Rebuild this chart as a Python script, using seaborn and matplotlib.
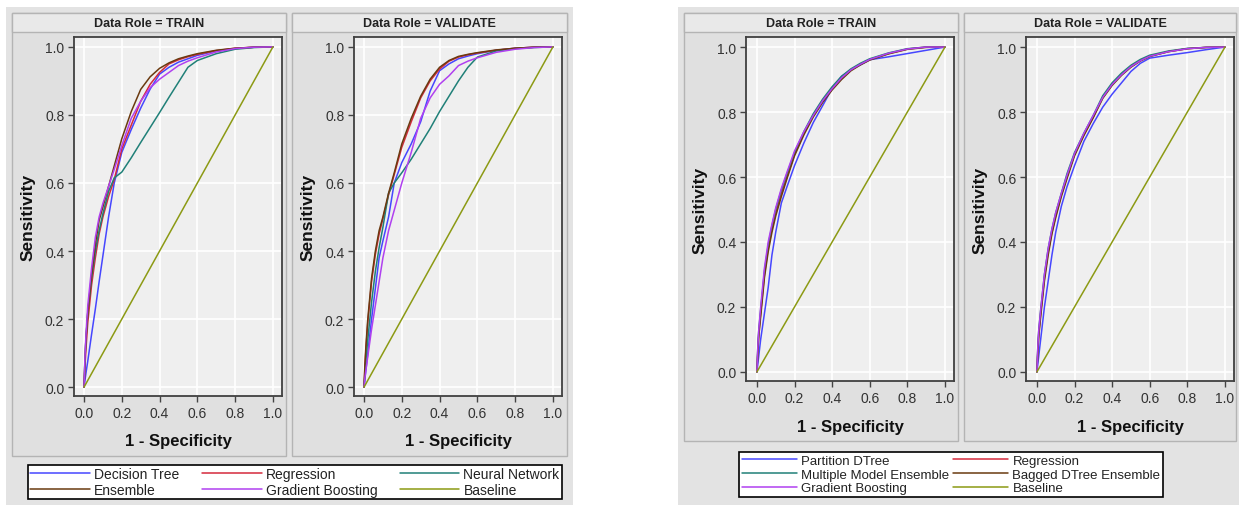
import numpy as np
import pandas as pd
import matplotlib
matplotlib.use("Agg")
import matplotlib.pyplot as plt
import seaborn as sns
from matplotlib.patches import Rectangle
from matplotlib.lines import Line2D

# shared false positive rate grid (1 - Specificity)
FPR = [0, 0.005, 0.01, 0.02, 0.04, 0.06, 0.08, 0.1, 0.13, 0.16, 0.2, 0.25,
       0.3, 0.35, 0.4, 0.45, 0.5, 0.55, 0.6, 0.7, 0.8, 0.9, 1.0]
BASELINE_X = [0.0, 1.0]
BASELINE_Y = [0.0, 1.0]

# ---- left chart, TRAIN ----
L_TR_DTREE = [0, 0.02, 0.04, 0.077, 0.155, 0.23, 0.31, 0.386, 0.50, 0.60, 0.69, 0.757,
              0.82, 0.876, 0.92, 0.94, 0.955, 0.965, 0.975, 0.988, 0.995, 0.999, 1]
L_TR_REG = [0, 0.06, 0.11, 0.19, 0.30, 0.38, 0.45, 0.50, 0.56, 0.61, 0.70, 0.77,
            0.84, 0.89, 0.925, 0.95, 0.962, 0.971, 0.978, 0.989, 0.996, 0.999, 1]
L_TR_NN = [0, 0.08, 0.14, 0.22, 0.32, 0.40, 0.46, 0.51, 0.575, 0.615, 0.632, 0.674,
           0.719, 0.763, 0.807, 0.852, 0.896, 0.94, 0.96, 0.98, 0.993, 0.998, 1]
L_TR_ENS = [0, 0.08, 0.14, 0.22, 0.33, 0.42, 0.49, 0.53, 0.59, 0.65, 0.73, 0.81,
            0.875, 0.912, 0.937, 0.953, 0.965, 0.973, 0.98, 0.99, 0.996, 0.999, 1]
L_TR_GB = [0, 0.09, 0.15, 0.24, 0.35, 0.44, 0.50, 0.54, 0.59, 0.64, 0.71, 0.79,
           0.84, 0.88, 0.905, 0.925, 0.945, 0.958, 0.968, 0.985, 0.995, 0.999, 1]

# ---- left chart, VALIDATE ----
L_VA_DTREE = [0, 0.025, 0.05, 0.10, 0.20, 0.29, 0.38, 0.43, 0.50, 0.60, 0.66, 0.715,
              0.78, 0.87, 0.93, 0.95, 0.965, 0.973, 0.98, 0.99, 0.996, 0.999, 1]
L_VA_REG = [0, 0.06, 0.11, 0.19, 0.31, 0.39, 0.45, 0.495, 0.565, 0.625, 0.705, 0.78,
            0.85, 0.90, 0.935, 0.958, 0.97, 0.977, 0.982, 0.99, 0.996, 0.999, 1]
L_VA_NN = [0, 0.04, 0.08, 0.14, 0.25, 0.34, 0.41, 0.47, 0.57, 0.60, 0.63, 0.67,
           0.715, 0.76, 0.81, 0.855, 0.90, 0.94, 0.97, 0.988, 0.995, 0.998, 1]
L_VA_ENS = [0, 0.07, 0.12, 0.20, 0.32, 0.40, 0.46, 0.50, 0.57, 0.63, 0.715, 0.79,
            0.855, 0.905, 0.94, 0.96, 0.972, 0.978, 0.983, 0.991, 0.996, 0.999, 1]
L_VA_GB = [0, 0.03, 0.05, 0.09, 0.17, 0.24, 0.31, 0.38, 0.46, 0.52, 0.60, 0.69,
           0.79, 0.85, 0.89, 0.915, 0.945, 0.958, 0.968, 0.984, 0.993, 0.998, 1]

# ---- right chart, TRAIN ----
R_TR_PDT = [0, 0.025, 0.05, 0.10, 0.18, 0.26, 0.36, 0.43, 0.52, 0.57, 0.635, 0.705,
            0.768, 0.82, 0.873, 0.91, 0.93, 0.945, 0.961, 0.970, 0.980, 0.99, 1]
R_TR_REG = [0, 0.07, 0.12, 0.18, 0.30, 0.38, 0.44, 0.49, 0.55, 0.60, 0.67, 0.735,
            0.79, 0.835, 0.872, 0.905, 0.93, 0.947, 0.962, 0.98, 0.994, 1.0, 1]
R_TR_MME = [0, 0.08, 0.13, 0.19, 0.31, 0.39, 0.45, 0.50, 0.56, 0.61, 0.675, 0.74,
            0.795, 0.84, 0.878, 0.91, 0.933, 0.95, 0.964, 0.982, 0.995, 1.0, 1]
R_TR_BAG = [0, 0.06, 0.11, 0.17, 0.29, 0.37, 0.43, 0.48, 0.54, 0.595, 0.665, 0.73,
            0.785, 0.83, 0.868, 0.90, 0.927, 0.945, 0.96, 0.979, 0.993, 0.999, 1]
R_TR_GB = [0, 0.08, 0.13, 0.20, 0.32, 0.40, 0.455, 0.505, 0.565, 0.615, 0.68, 0.74,
           0.79, 0.835, 0.872, 0.905, 0.93, 0.947, 0.962, 0.981, 0.994, 1.0, 1]

# ---- right chart, VALIDATE ----
R_VA_PDT = [0, 0.025, 0.05, 0.10, 0.20, 0.28, 0.36, 0.43, 0.51, 0.57, 0.635, 0.71,
            0.765, 0.815, 0.855, 0.89, 0.925, 0.95, 0.966, 0.975, 0.983, 0.992, 1]
R_VA_REG = [0, 0.07, 0.12, 0.18, 0.29, 0.37, 0.43, 0.48, 0.545, 0.60, 0.67, 0.73,
            0.785, 0.845, 0.885, 0.915, 0.94, 0.958, 0.972, 0.986, 0.995, 0.999, 1]
R_VA_MME = [0, 0.08, 0.13, 0.19, 0.30, 0.38, 0.44, 0.49, 0.55, 0.61, 0.675, 0.735,
            0.79, 0.85, 0.89, 0.92, 0.944, 0.962, 0.975, 0.988, 0.996, 0.999, 1]
R_VA_BAG = [0, 0.06, 0.11, 0.17, 0.28, 0.36, 0.425, 0.475, 0.54, 0.595, 0.665, 0.728,
            0.783, 0.842, 0.882, 0.913, 0.938, 0.957, 0.971, 0.986, 0.995, 0.999, 1]
R_VA_GB = [0, 0.08, 0.13, 0.19, 0.30, 0.38, 0.44, 0.49, 0.55, 0.605, 0.672, 0.735,
           0.79, 0.845, 0.885, 0.915, 0.94, 0.958, 0.972, 0.986, 0.995, 0.999, 1]

LEFT_NAMES = ["Decision Tree", "Regression", "Neural Network", "Ensemble", "Gradient Boosting"]
RIGHT_NAMES = ["Partition DTree", "Regression", "Multiple Model Ensemble",
               "Bagged DTree Ensemble", "Gradient Boosting"]

BLUE, RED, TEAL, BROWN, PURPLE, OLIVE = "#4646ff", "#d42a3c", "#208078", "#6a3a10", "#b040f0", "#8c9a14"
LEFT_COLORS = {"Decision Tree": BLUE, "Regression": RED, "Neural Network": TEAL,
               "Ensemble": BROWN, "Gradient Boosting": PURPLE, "Baseline": OLIVE}
RIGHT_COLORS = {"Partition DTree": BLUE, "Regression": RED, "Multiple Model Ensemble": TEAL,
                "Bagged DTree Ensemble": BROWN, "Gradient Boosting": PURPLE, "Baseline": OLIVE}

sns.set_theme(style="whitegrid")
plt.rcParams["font.family"] = ["Liberation Sans", "DejaVu Sans"]

W, H = 1239, 506
fig = plt.figure(figsize=(W / 100, H / 100), dpi=100)
fig.patch.set_facecolor("white")


def frect(x0, y0, x1, y1, z=-10, **kw):
    # rectangle given in pixel coords (top-left origin), drawn beneath the axes
    fig.patches.append(Rectangle((x0 / W, 1 - y1 / H), (x1 - x0) / W, (y1 - y0) / H,
                                 transform=fig.transFigure, zorder=z, **kw))


def long_df(names, curves):
    frames = [pd.DataFrame({"fpr": FPR, "tpr": c, "model": n}) for n, c in zip(names, curves)]
    frames.append(pd.DataFrame({"fpr": BASELINE_X, "tpr": BASELINE_Y, "model": "Baseline"}))
    return pd.concat(frames, ignore_index=True)


def panel(box, axbox, title, df, colors, ylim, xlim, xlab_y):
    bx0, by0, bx1, by1 = box
    frect(bx0, by0, bx1, by1, z=-9, facecolor="#e0e0e0", edgecolor="#b4b4b4", lw=1)
    frect(bx0, by0, bx1, by0 + 19, z=-8, facecolor="#e9e9e9", edgecolor="#b4b4b4", lw=1)
    fig.text((bx0 + bx1) / 2 / W, 1 - (by0 + 10) / H, title, ha="center", va="center",
             fontsize=9, fontweight="bold", color="#222222")
    ax0, ay0, ax1, ay1 = axbox
    ax = fig.add_axes([ax0 / W, 1 - ay1 / H, (ax1 - ax0) / W, (ay1 - ay0) / H])
    ax.set_facecolor("#efefef")
    sns.lineplot(data=df, x="fpr", y="tpr", hue="model", palette=colors, ax=ax,
                 estimator=None, sort=False, linewidth=1.1, legend=False)
    ax.set_xlim(*xlim)
    ax.set_ylim(*ylim)
    ticks = [0, 0.2, 0.4, 0.6, 0.8, 1.0]
    ax.set_xticks(ticks)
    ax.set_yticks(ticks)
    ax.set_xticklabels([f"{t:.1f}" for t in ticks])
    ax.set_yticklabels([f"{t:.1f}" for t in ticks])
    ax.grid(True, color="white", lw=1.2)
    ax.set_axisbelow(True)
    for s in ax.spines.values():
        s.set_color("#404040")
        s.set_linewidth(1.3)
    ax.tick_params(axis="both", which="both", direction="out", length=4, width=1,
                   color="#444444", labelsize=10, labelcolor="#333333", pad=3,
                   bottom=True, left=True)
    ax.set_xlabel("1 - Specificity", fontsize=12, fontweight="bold", color="#111111")
    ax.set_ylabel("Sensitivity", fontsize=12.5, fontweight="bold", color="#111111")
    ax.yaxis.set_label_coords(-0.183, 0.5)
    ax.xaxis.set_label_coords(0.5, xlab_y)
    return ax


# group backgrounds
frect(6, 8, 573, 506, z=-10, facecolor="#e3e3e3", edgecolor="none")
frect(678, 8, 1239, 506, z=-10, facecolor="#e3e3e3", edgecolor="none")

left_tr = long_df(LEFT_NAMES, [L_TR_DTREE, L_TR_REG, L_TR_NN, L_TR_ENS, L_TR_GB])
left_va = long_df(LEFT_NAMES, [L_VA_DTREE, L_VA_REG, L_VA_NN, L_VA_ENS, L_VA_GB])
right_tr = long_df(RIGHT_NAMES, [R_TR_PDT, R_TR_REG, R_TR_MME, R_TR_BAG, R_TR_GB])
right_va = long_df(RIGHT_NAMES, [R_VA_PDT, R_VA_REG, R_VA_MME, R_VA_BAG, R_VA_GB])

lylim = (-0.026, 1.029)
lxlim = (-0.053, 1.048)
panel((12, 14, 286, 457), (74, 38, 282, 397), "Data Role = TRAIN", left_tr, LEFT_COLORS, lylim, lxlim, -0.103)
panel((292, 14, 567, 457), (354, 38, 562, 397), "Data Role = VALIDATE", left_va, LEFT_COLORS, lylim, lxlim, -0.103)

rylim = (-0.028, 1.031)
rxlim = (-0.058, 1.048)
panel((684, 14, 958, 442), (746, 38, 954, 382), "Data Role = TRAIN", right_tr, RIGHT_COLORS, rylim, rxlim, -0.11)
panel((964, 14, 1236, 442), (1026, 38, 1234, 382), "Data Role = VALIDATE", right_va, RIGHT_COLORS, rylim, rxlim, -0.11)


def make_legend(order, colors, ncol, cx, cy, colsp, fs, hl):
    handles = [Line2D([], [], color=colors[n], lw=1.1) for n in order]
    leg = fig.legend(handles, order, ncol=ncol, loc="center",
                     bbox_to_anchor=(cx / W, 1 - cy / H), bbox_transform=fig.transFigure,
                     fontsize=fs, frameon=True, fancybox=False, edgecolor="black",
                     framealpha=1, handlelength=hl, handletextpad=0.3,
                     columnspacing=colsp, labelspacing=0.1, borderpad=0.2)
    leg.get_frame().set_linewidth(1.2)
    for t in leg.get_texts():
        t.set_color("#222222")
    return leg


# matplotlib fills legends column by column
make_legend(["Decision Tree", "Ensemble", "Regression", "Gradient Boosting", "Neural Network", "Baseline"],
            LEFT_COLORS, 3, 295, 483, 1.6, 10, 4.3)
make_legend(["Partition DTree", "Multiple Model Ensemble", "Gradient Boosting",
             "Regression", "Bagged DTree Ensemble", "Baseline"],
            RIGHT_COLORS, 2, 951, 475.5, 0.3, 9.5, 4.2)

fig.savefig("out.png", dpi=100)
